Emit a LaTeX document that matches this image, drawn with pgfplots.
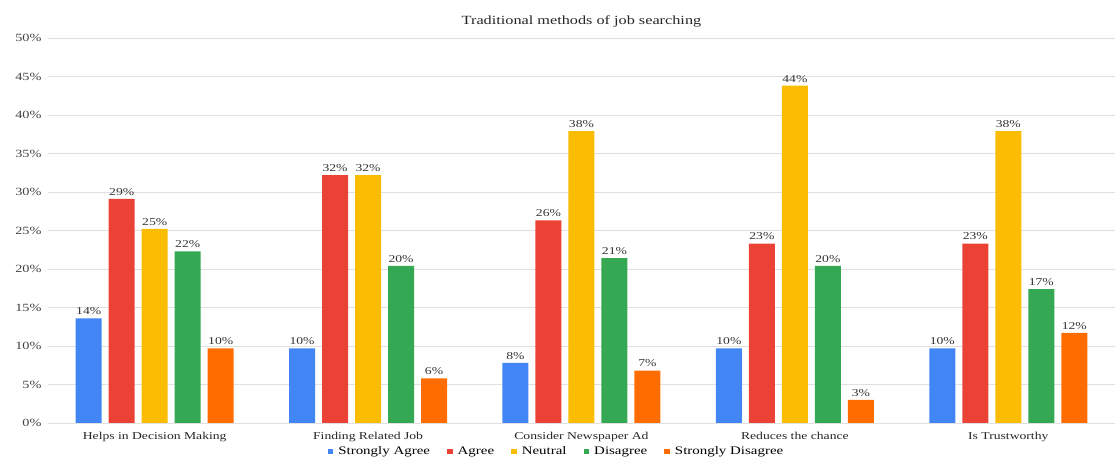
\documentclass[border=0pt]{standalone}
\usepackage{fontspec}
\setmainfont{Liberation Serif}[FakeStretch=1.3]
\usepackage{pgfplots}
\pgfplotsset{compat=1.18}
\definecolor{cA}{HTML}{4285F4}
\definecolor{cB}{HTML}{EA4335}
\definecolor{cC}{HTML}{FBBC04}
\definecolor{cD}{HTML}{34A853}
\definecolor{cE}{HTML}{FF6D01}
\begin{document}
\begin{tikzpicture}
\begin{axis}[
  at={(48pt,43pt)}, anchor=south west,
  scale only axis, width=1067pt, height=385pt,
  ybar=7pt, bar width=26pt,
  xmin=-0.5, xmax=4.5, ymin=0, ymax=50,
  xtick={0,1,2,3,4},
  xticklabels={Helps in Decision Making,Finding Related Job,Consider Newspaper Ad,Reduces the chance,Is Trustworthy},
  ytick={0,5,...,50},
  yticklabel={\pgfmathprintnumber{\tick}\%},
  /pgf/number format/assume math mode=true,
  ymajorgrids, grid style={black!12, line width=0.8pt},
  axis line style={draw=none}, major tick length=0pt,
  xticklabel style={font=\fontsize{10.5}{12}\selectfont, text=black!85, yshift=-6pt},
  yticklabel style={font=\fontsize{11}{12}\selectfont, text=black!75, xshift=-3pt},
  title={Traditional methods of job searching},
  title style={font=\fontsize{12.5}{14}\selectfont, text=black!85, at={(0.5,1)}, anchor=south, yshift=1pt},
  nodes near coords={\pgfmathprintnumber[fixed,precision=0]{\pgfplotspointmeta}\%},
  nodes near coords style={font=\fontsize{10.5}{12}\selectfont, text=black!80},
  legend style={at={(0.4766,-0.074)}, anchor=center, legend columns=-1, draw=none,
    font=\fontsize{11.5}{13}\selectfont,
    /tikz/every odd column/.append style={column sep=3pt},
    /tikz/every even column/.append style={column sep=15pt}},
  every axis plot/.append style={draw=none, legend image code/.code={\fill[##1] (0pt,-2.8pt) rectangle (5.6pt,2.8pt);}},
]
\addplot[fill=cA] coordinates {(0,13.6) (1,9.7) (2,7.8) (3,9.7) (4,9.7)};
\addplot[fill=cB] coordinates {(0,29.1) (1,32.2) (2,26.3) (3,23.3) (4,23.3)};
\addplot[fill=cC] coordinates {(0,25.2) (1,32.2) (2,37.9) (3,43.8) (4,37.9)};
\addplot[fill=cD] coordinates {(0,22.3) (1,20.4) (2,21.4) (3,20.4) (4,17.4)};
\addplot[fill=cE] coordinates {(0,9.7) (1,5.8) (2,6.8) (3,3.0) (4,11.7)};
\legend{Strongly Agree,Agree,Neutral,Disagree,Strongly Disagree}
\end{axis}
\pgfresetboundingbox
\path (0,0) rectangle (1120pt,466pt);
\end{tikzpicture}
\end{document}
